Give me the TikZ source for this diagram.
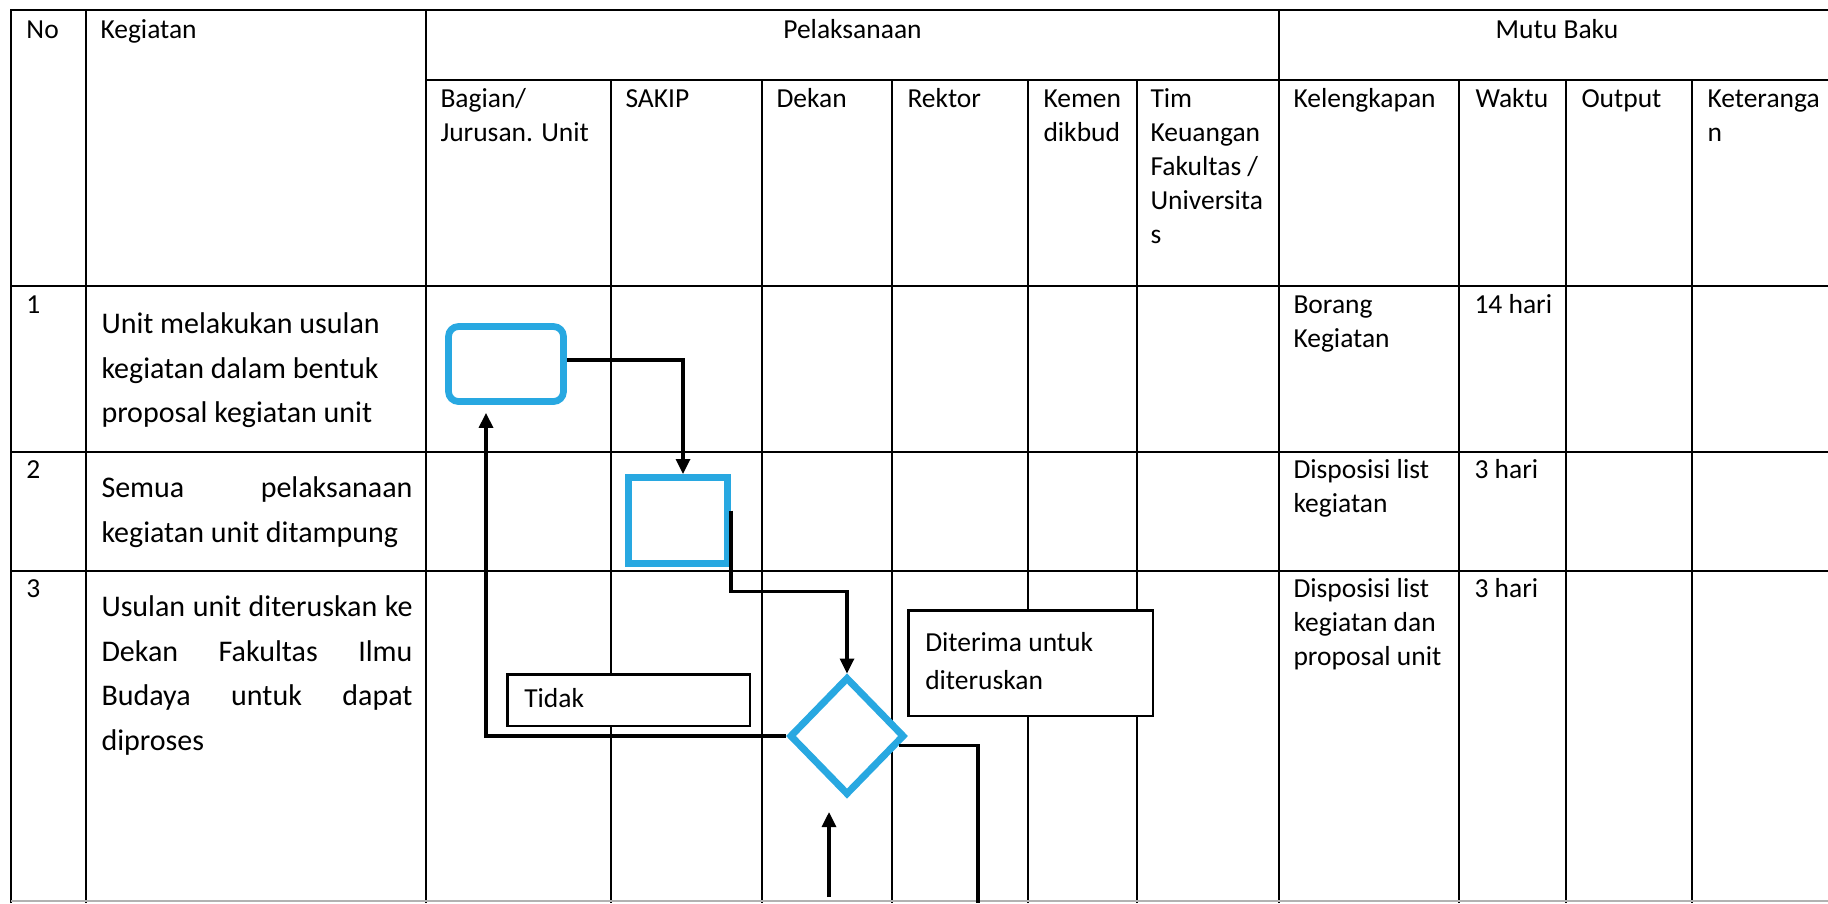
\documentclass[tikz,border=0pt]{standalone}
\usepackage{fontspec}
\setmainfont{Carlito}
\usetikzlibrary{shapes.geometric,arrows.meta}
\definecolor{flowblue}{RGB}{40,168,225}
\newlength{\kegw}
\setlength{\kegw}{124.4pt}
\newcommand{\jline}[1]{\makebox[\kegw][s]{#1}}

\begin{document}
\begin{tikzpicture}[x=0.4pt,y=-0.4pt]
  \tikzset{grid line/.style={line width=0.6pt}}
  \tikzset{cell/.style={anchor=north west,inner sep=0pt,align=left,font=\fontsize{11}{13.6}\selectfont,execute at begin node=\strut}}
  \tikzset{kegiatan/.style={cell,font=\fontsize{12}{17.8}\selectfont}}
  \tikzset{flow/.style={line width=1.3pt,-{Triangle[length=6pt,width=5.6pt]}}}
  \tikzset{plain flow/.style={line width=1.3pt}}
  \tikzset{labelbox/.style={draw,line width=1pt,fill=white,align=flush left,font=\fontsize{11}{15.2}\selectfont,inner xsep=6.8pt,inner ysep=0pt,execute at begin node=\strut,execute at end node=\strut}}
  \tikzset{blueshape/.style={draw=flowblue,fill=white,line width=2.8pt,inner sep=0pt}}
  \useasboundingbox (0,0) rectangle (1828,903);
  \draw[grid line] (11,903) -- (11,10) -- (1828,10);
  \draw[grid line] (426,80) -- (1828,80);
  \foreach \y in {286,452,571}
    \draw[grid line] (11,\y) -- (1828,\y);
  \foreach \x in {86,426,1279}
    \draw[grid line] (\x,10) -- (\x,903);
  \foreach \x in {611,762,892,1028,1137,1459,1566,1692}
    \draw[grid line] (\x,80) -- (\x,903);
  \draw[black!30,line width=1pt] (11,901) -- (1828,901);
  \node[cell] (no) at (26,14) {No};
  \node[cell] (keg) at (100,14) {Kegiatan};
  \node[cell,anchor=north] (pel) at (852.5,14) {Pelaksanaan};
  \node[cell,anchor=north] (mutu) at (1557,14) {Mutu Baku};
  \node[cell] (bagian) at (440,83) {\strut Bagian/\\Jurusan. Unit};
  \node[cell] (sakiphead) at (625,83) {SAKIP};
  \node[cell] (dekan) at (776,83) {Dekan};
  \node[cell] (rektor) at (907,83) {Rektor};
  \node[cell] (kemen) at (1043,83) {\strut Kemen\\dikbud};
  \node[cell] (tim) at (1150,83) {\strut Tim\\Keuangan\\Fakultas /\\Universita\\s};
  \node[cell] (kel) at (1293,83) {Kelengkapan};
  \node[cell] (waktu) at (1475,83) {Waktu};
  \node[cell] (output) at (1581,83) {Output};
  \node[cell] (ket) at (1707,83) {\strut Keteranga\\n};
  \node[cell] (no1) at (26,289) {1};
  \node[cell] (no2) at (26,454) {2};
  \node[cell] (no3) at (26,573) {3};
  \node[kegiatan] (keg1) at (101,302) {\strut Unit melakukan usulan\\kegiatan dalam bentuk\\proposal kegiatan unit};
  \node[kegiatan] (keg2) at (101,466) {\strut\jline{Semua pelaksanaan}\\kegiatan unit ditampung};
  \node[kegiatan] (keg3) at (101,585) {\strut\jline{Usulan unit diteruskan ke}\\\jline{Dekan Fakultas Ilmu}\\\jline{Budaya untuk dapat}\\diproses};
  \node[cell] (kel1) at (1293,289) {\strut Borang\\Kegiatan};
  \node[cell] (waktu1) at (1474,289) {14 hari};
  \node[cell] (kel2) at (1293,454) {\strut Disposisi list\\kegiatan};
  \node[cell] (waktu2) at (1474,454) {3 hari};
  \node[cell] (kel3) at (1293,573) {\strut Disposisi list\\kegiatan dan\\proposal unit};
  \node[cell] (waktu3) at (1474,573) {3 hari};
  \node[blueshape,line width=2.7pt,rounded corners=4pt,minimum width=46pt,minimum height=30pt] (start) at (506,364) {};
  \node[blueshape,minimum width=39.6pt,minimum height=34.4pt] (sakip) at (678,520.5) {};
  \node[blueshape,diamond,minimum width=46pt,minimum height=47.2pt] (dia) at (847,736) {};
  \node[labelbox,text width=83.4pt,minimum width=97pt,minimum height=20.6pt] (tidak) at (628.5,700) {Tidak};
  \node[labelbox,text width=84.2pt,minimum width=97.8pt,minimum height=42.2pt] (terima) at (1030.5,663) {Diterima untuk\\diteruskan};
  \coordinate (fromnext) at (829,897);
  \coordinate (tonext) at (978,903);
  \draw[flow] ([yshift=1.6pt]start.east) -| ([xshift=2pt]sakip.north);
  \draw[flow] ([yshift=4pt]sakip.east) -- ++(0,81) -| (dia.north);
  \draw[flow,shorten >=3.2pt] (dia.west) -| ([xshift=-8pt]start.south);
  \draw[plain flow] (dia.-10) -| (tonext);
  \draw[flow,shorten >=5.4pt] (fromnext) -- (fromnext |- dia.south);
\end{tikzpicture}
\end{document}
